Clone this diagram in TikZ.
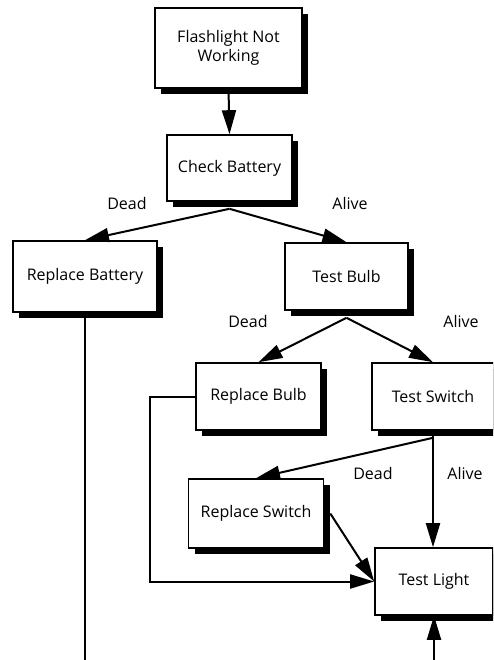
\documentclass[tikz,border=0pt]{standalone}
\usepackage{fontspec}
\setmainfont{Open Sans}
\usetikzlibrary{arrows.meta,shadows}
\tikzset{
  box/.style={draw, line width=1.6pt, fill=white, align=center, inner sep=0pt,
    drop shadow={shadow xshift=6pt, shadow yshift=-6pt, fill=black, opacity=1}},
  lbl/.style={inner sep=0pt},
  go/.style={line width=2pt, -{Triangle[length=24pt,width=14pt]}},
}
\begin{document}
\begin{tikzpicture}[x=1pt,y=-1pt,font=\fontsize{16}{19}\selectfont]
\useasboundingbox (0,0) rectangle (493,660);
\clip (0,0) rectangle (493,660);
% boxes
\node[box, minimum width=147pt, minimum height=80pt] (fnw) at (228.5,48) {Flashlight Not\\Working};
\node[box, minimum width=125pt, minimum height=66pt] (cb) at (229.5,168) {Check Battery};
\node[box, minimum width=144pt, minimum height=71pt] (rbat) at (85,276.5) {Replace Battery};
\node[box, minimum width=123pt, minimum height=67pt] (tb) at (346.5,276.5) {Test Bulb};
\node[box, minimum width=125pt, minimum height=67pt] (rbulb) at (258.5,396.5) {Replace Bulb};
\node[box, minimum width=122pt, minimum height=67pt] (ts) at (433,396.5) {Test Switch};
\node[box, minimum width=135pt, minimum height=69pt] (rsw) at (256,513.5) {Replace Switch};
\node[box, minimum width=118pt, minimum height=67pt] (tl) at (434,581.5) {Test Light};
% labels
\node[lbl] (d1) at (127,204) {Dead};
\node[lbl] (a1) at (350,204) {Alive};
\node[lbl] (d2) at (248,321) {Dead};
\node[lbl] (a2) at (461,321) {Alive};
\node[lbl] (d3) at (373,473) {Dead};
\node[lbl] (a3) at (465,473) {Alive};
% loose ends
\coordinate (rbatend) at (85,660);
\coordinate (tlin) at (434,660);
% connectors
\draw[go] (fnw.south) -- (cb.north);
\draw[go] ([yshift=-7pt]cb.south) -- (rbat.north);
\draw[go] ([yshift=-7pt]cb.south) -- (tb.north);
\draw[go] ([yshift=-7pt]tb.south) -- (rbulb.north);
\draw[go] ([yshift=-7pt]tb.south) -- (ts.north);
\draw[go] ([yshift=-7pt]ts.south) -- (rsw.north);
\draw[go] (ts.south) -- (ts.south |- tl.north);
\draw[go] ([xshift=6pt]rsw.east) -- (tl.west);
\draw[go] (rbulb.west) -- ++(-45,0) |- (tl.west);
\draw[line width=2pt] (rbat.south) -- (rbatend);
\draw[go] (tlin) -- (tl.south);
\end{tikzpicture}
\end{document}
